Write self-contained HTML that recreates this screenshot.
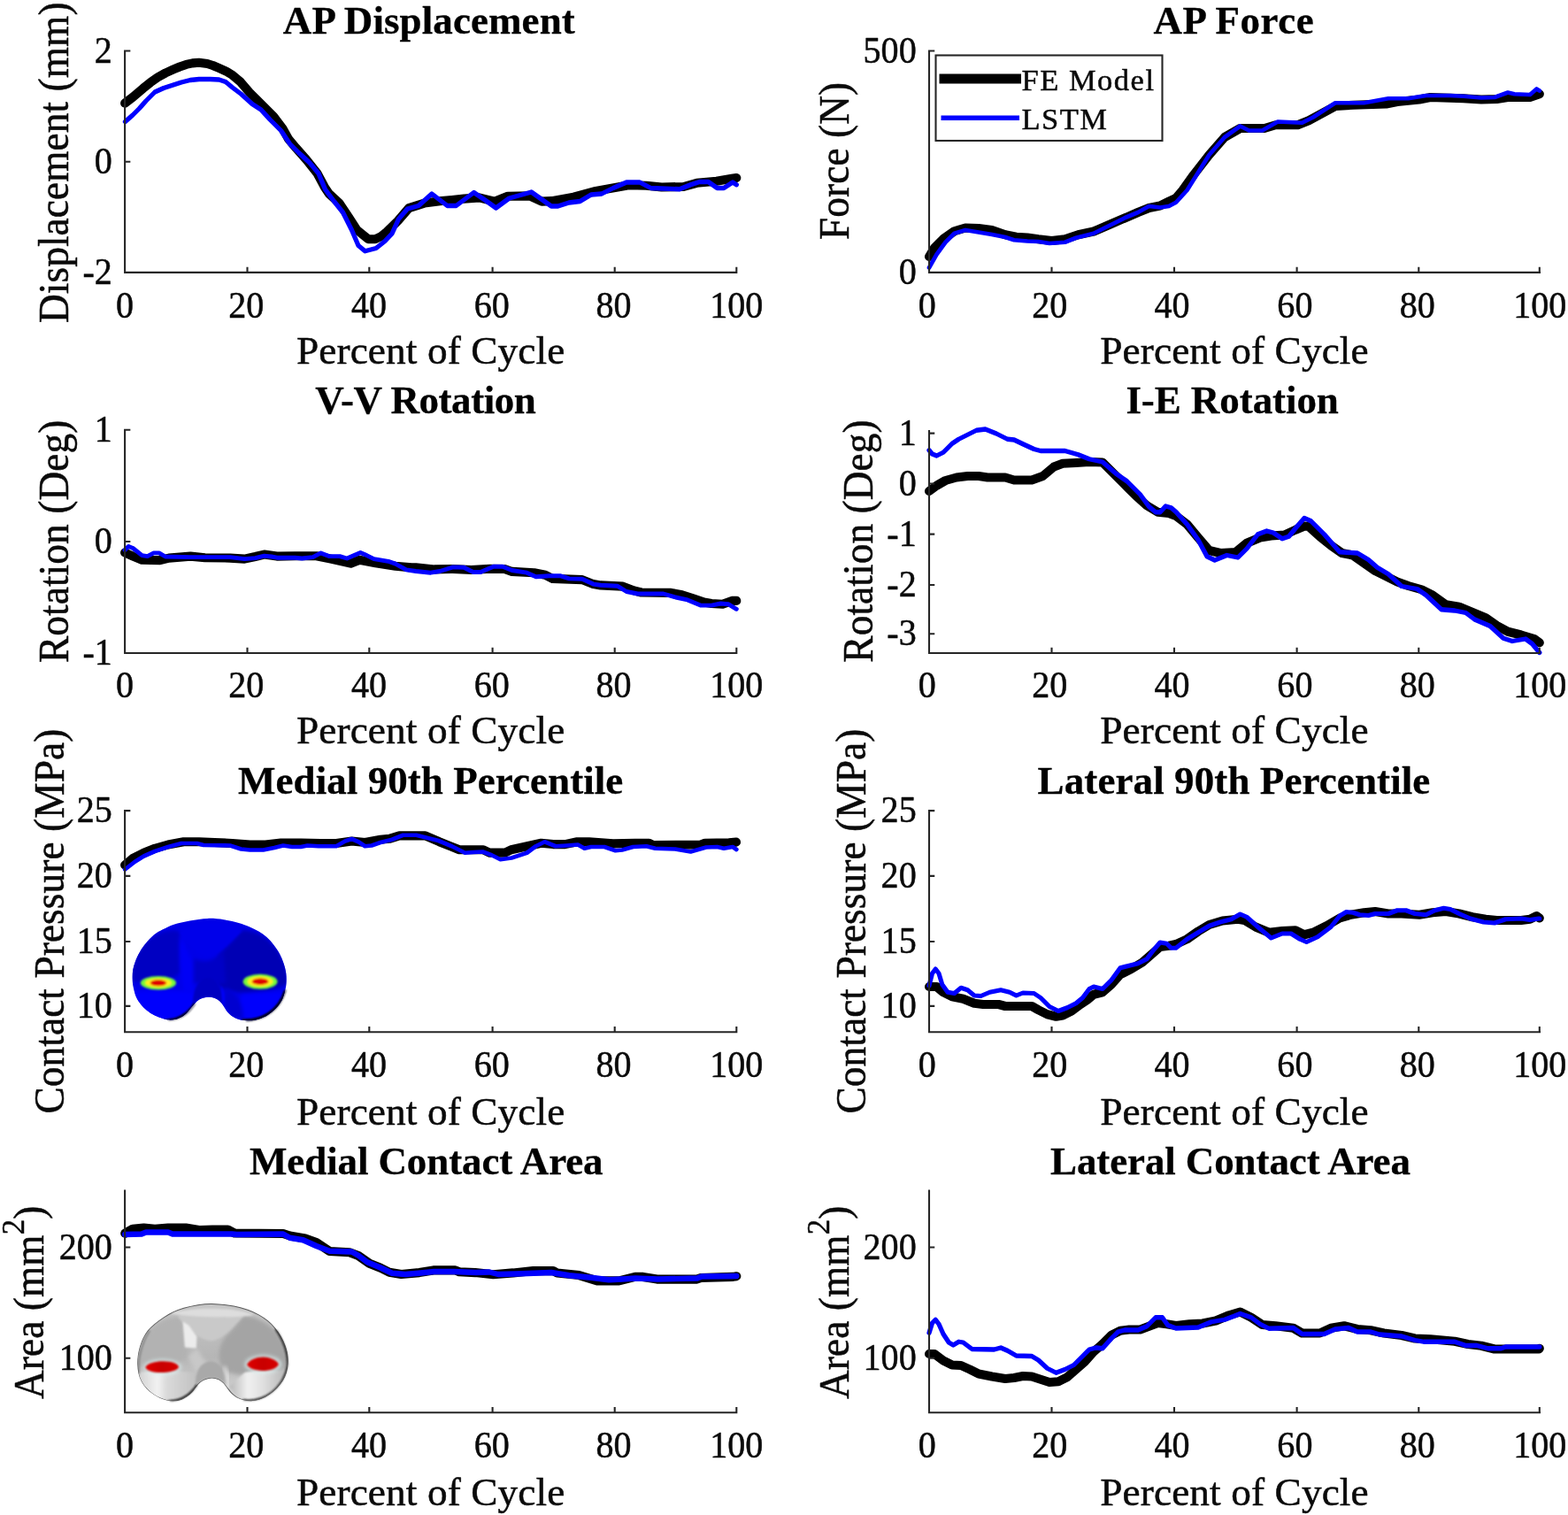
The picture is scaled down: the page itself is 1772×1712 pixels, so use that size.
<!DOCTYPE html>
<html lang="en"><head><meta charset="utf-8"><title>FE Model vs LSTM</title>
<style>
html,body{margin:0;padding:0;background:#fff}
body{width:1772px;height:1712px;overflow:hidden}
svg{display:block}
text{font-family:"Liberation Serif",serif;fill:#0a0a0a;stroke:#0a0a0a;stroke-width:0.5px;stroke-linejoin:round}
.t{font-size:45px;font-weight:bold;text-anchor:start;fill:#000;stroke:#000;stroke-width:0.3px}
.l{font-size:45.3px;text-anchor:middle;letter-spacing:0.1px}
.x{font-size:40.5px;text-anchor:middle}
.y{font-size:40.5px;text-anchor:end}
.g{font-size:34.5px;text-anchor:start;letter-spacing:1.5px}
.ax{fill:none;stroke:#262626;stroke-width:2.1;stroke-linecap:butt}
.k{fill:none;stroke:#000;stroke-width:10.1;stroke-linejoin:round;stroke-linecap:round}
.b{fill:none;stroke:#0000ff;stroke-width:4.9;stroke-linejoin:round;stroke-linecap:round}
</style></head><body>
<svg width="1772" height="1712" viewBox="0 0 1772 1712" role="img" aria-label="FE model versus LSTM predictions over percent of cycle">
<defs><clipPath id="cb"><path d="M840 70C783.33 71.67 716.67 82 660 92C603.33 102 545 115.33 500 130C455 144.67 423.33 162.5 390 180C356.67 197.5 328.33 211.67 300 235C271.67 258.33 243.33 291.67 220 320C196.67 348.33 177.5 375 160 405C142.5 435 126.67 469.17 115 500C103.33 530.83 94.83 560 90 590C85.17 620 85.17 651.67 86 680C86.83 708.33 88.5 730 95 760C101.5 790 112.5 831.67 125 860C137.5 888.33 152.5 908.33 170 930C187.5 951.67 206.67 971.33 230 990C253.33 1008.67 283.33 1028.33 310 1042C336.67 1055.67 366.67 1065 390 1072C413.33 1079 428.33 1083 450 1084C471.67 1085 498.33 1082.83 520 1078C541.67 1073.17 560.83 1066.33 580 1055C599.17 1043.67 618.33 1026.67 635 1010C651.67 993.33 665.83 971.67 680 955C694.17 938.33 705 923.33 720 910C735 896.67 750 883.83 770 875C790 866.17 816.67 858.17 840 857C863.33 855.83 890 860.83 910 868C930 875.17 945 886.33 960 900C975 913.67 986.67 931.67 1000 950C1013.33 968.33 1025 993 1040 1010C1055 1027 1070 1040 1090 1052C1110 1064 1131.67 1075.33 1160 1082C1188.33 1088.67 1228.33 1093 1260 1092C1291.67 1091 1320 1085.33 1350 1076C1380 1066.67 1411.67 1053.67 1440 1036C1468.33 1018.33 1496.67 994.33 1520 970C1543.33 945.67 1564.67 918.33 1580 890C1595.33 861.67 1604.33 828.33 1612 800C1619.67 771.67 1624 750 1626 720C1628 690 1628.33 653.33 1624 620C1619.67 586.67 1610.67 552.5 1600 520C1589.33 487.5 1576.67 455.83 1560 425C1543.33 394.17 1521.67 362.83 1500 335C1478.33 307.17 1455 280.5 1430 258C1405 235.5 1378.33 217.17 1350 200C1321.67 182.83 1293.33 169.17 1260 155C1226.67 140.83 1193.33 127.17 1150 115C1106.67 102.83 1051.67 89.5 1000 82C948.33 74.5 896.67 68.33 840 70Z"/></clipPath><clipPath id="cg"><path d="M880 75C818.33 73.33 776.67 80.83 730 88C683.33 95.17 640 106 600 118C560 130 523.33 144.33 490 160C456.67 175.67 430 192.33 400 212C370 231.67 335.83 256.67 310 278C284.17 299.33 264.17 316.33 245 340C225.83 363.67 208.33 393.33 195 420C181.67 446.67 173.33 471.67 165 500C156.67 528.33 149.17 560 145 590C140.83 620 139.17 650 140 680C140.83 710 143.33 741.67 150 770C156.67 798.33 166.67 825 180 850C193.33 875 211.67 899.67 230 920C248.33 940.33 268.33 956.67 290 972C311.67 987.33 336.67 1001.33 360 1012C383.33 1022.67 406.67 1030.67 430 1036C453.33 1041.33 476.67 1044.67 500 1044C523.33 1043.33 548.33 1039.33 570 1032C591.67 1024.67 611.67 1012.33 630 1000C648.33 987.67 665 973.83 680 958C695 942.17 706.67 921.33 720 905C733.33 888.67 745 872.5 760 860C775 847.5 790 837.33 810 830C830 822.67 856.67 816 880 816C903.33 816 930 821.33 950 830C970 838.67 985 853 1000 868C1015 883 1026.67 903 1040 920C1053.33 937 1065 955.33 1080 970C1095 984.67 1110 997.33 1130 1008C1150 1018.67 1173.33 1028.33 1200 1034C1226.67 1039.67 1260 1044.33 1290 1042C1320 1039.67 1351.67 1031.17 1380 1020C1408.33 1008.83 1435 992.5 1460 975C1485 957.5 1508.33 937.5 1530 915C1551.67 892.5 1574.17 865.83 1590 840C1605.83 814.17 1616.67 788.33 1625 760C1633.33 731.67 1638.17 700 1640 670C1641.83 640 1640.67 610 1636 580C1631.33 550 1623 520 1612 490C1601 460 1587 429.17 1570 400C1553 370.83 1531.67 340.83 1510 315C1488.33 289.17 1466.67 266.67 1440 245C1413.33 223.33 1383.33 203.33 1350 185C1316.67 166.67 1281.67 149.5 1240 135C1198.33 120.5 1160 108 1100 98C1040 88 941.67 76.67 880 75Z"/></clipPath><linearGradient id="gbase" x1="0" y1="0" x2="0" y2="1"><stop offset="0" stop-color="#c6c6c6"/><stop offset="0.55" stop-color="#b6b6b6"/><stop offset="1" stop-color="#d6d6d6"/></linearGradient><linearGradient id="glob" x1="0" y1="0" x2="1" y2="0"><stop offset="0" stop-color="#cfcfcf"/><stop offset="0.35" stop-color="#f2f2f2"/><stop offset="0.5" stop-color="#dadada"/><stop offset="1" stop-color="#c2c2c2"/></linearGradient><linearGradient id="glob2" x1="0" y1="0" x2="1" y2="0"><stop offset="0" stop-color="#b8b8b8"/><stop offset="0.3" stop-color="#f0f0f0"/><stop offset="0.55" stop-color="#e0e0e0"/><stop offset="1" stop-color="#b0b0b0"/></linearGradient><linearGradient id="gred" x1="0" y1="0" x2="1" y2="0"><stop offset="0" stop-color="#e00000"/><stop offset="0.5" stop-color="#c80000"/><stop offset="1" stop-color="#d80000"/></linearGradient><filter id="kb1" x="-40%" y="-40%" width="180%" height="180%"><feGaussianBlur stdDeviation="8"/></filter><filter id="kb2" x="-40%" y="-40%" width="180%" height="180%"><feGaussianBlur stdDeviation="18"/></filter><filter id="kb3" x="-40%" y="-40%" width="180%" height="180%"><feGaussianBlur stdDeviation="30"/></filter><filter id="kb4" x="-40%" y="-40%" width="180%" height="180%"><feGaussianBlur stdDeviation="45"/></filter></defs>
<rect width="1772" height="1712" fill="#fff"/>
<g id="p1">
<text class="t" x="319.8" y="38.2" style="letter-spacing:0.09px">AP Displacement</text>
<polyline class="k" points="141.1,116.6 150,109.9 161.8,99.8 170,93.2 178.2,87.4 187,82.5 196,78.4 203,75.5 210.4,72.9 217.5,71.4 224.8,70.8 234.3,72 240.5,74 246.8,76.7 256.1,80.8 261.7,84.2 271.9,92.7 282,104.5 295.6,118.1 309.1,131.6 319.3,145.1 326,157 334.5,167.2 346.4,180.7 358.5,195.9 366.7,211.2 371.7,218.8 383.6,229.8 393.8,245 403.4,259.9 416.1,270.1 424,270.3 431,267 437.2,261.9 449.7,249.5 462.1,235.1 479.5,229.6 499.3,227.1 524.2,224.6 541.5,223.4 558.9,227.6 573.8,221.7 598.7,221.4 612.3,227.6 623.5,227.1 648.3,222.6 673.2,215.9 698,211.5 710.4,209.2 730.3,209.7 747.7,211.5 772.5,211 787.4,206.8 809.7,204.8 827.1,201.8 832.3,201"/>
<polyline class="b" style="stroke-width:5.3px" points="141.5,137.5 150,130 157.5,122.5 165,114 175,104 185,99.5 195,96.25 205,93 215,90.5 225,89.5 237.5,89.5 247.5,90 255,92.5 262.5,98.75 272.5,106.25 285,117.5 295,124 305,135 317.5,147.5 327.5,162.5 337.5,172.5 350,184 360,196 367.5,214 377.5,227.5 387.5,240 397.5,260 405,277.5 412.5,283.75 425,280.5 435,272.5 443,264 450.5,247.5 460.5,236 473,232.5 488,219 505.5,232.5 515.5,232.5 535.5,217.5 548,226 560.5,235 575.5,224 600.5,217 623,233 630.5,233 643,229 655.5,227.5 668,220 680,219 693,212.5 708,206 723,206 735.5,212.5 768,213.75 780.5,208.75 790.5,205.5 800.5,205.5 810.5,212.5 818,212.5 828,206 832.3,208.75"/>
<path class="ax" d="M141.1 56.45V307.9H833.35M140.05 307.9h2.1M279.5 307.9v-6.25M417.3 307.9v-6.25M556.6 307.9v-6.25M694.7 307.9v-6.25M832.3 307.9v-6.25M141.1 57.5h6.25M141.1 182.7h6.25"/>
<text class="x" transform="translate(141.1 358.5) scale(0.99 1.04)">0</text>
<text class="x" transform="translate(278.2 358.5) scale(0.99 1.04)">20</text>
<text class="x" transform="translate(417 358.5) scale(0.99 1.04)">40</text>
<text class="x" transform="translate(555.7 358.5) scale(0.99 1.04)">60</text>
<text class="x" transform="translate(693.5 358.5) scale(0.99 1.04)">80</text>
<text class="x" transform="translate(832.3 358.5) scale(0.99 1.04)">100</text>
<text class="y" transform="translate(126.8 70.5) scale(0.99 1.04)">2</text>
<text class="y" transform="translate(126.8 195.7) scale(0.99 1.04)">0</text>
<text class="y" transform="translate(126.8 320.9) scale(0.99 1.04)">-2</text>
<text class="l" x="486.7" y="411.4">Percent of Cycle</text>
<text class="l" transform="translate(76.5 183.7) rotate(-90) scale(1 1.05)">Displacement (mm)</text>
</g>
<g id="p2">
<text class="t" x="1303.4" y="38.2" style="letter-spacing:0.49px">AP Force</text>
<polyline class="k" points="1050,290 1056,280 1066,270 1078.5,261.25 1091,257.5 1106,258 1121,260 1136,265.25 1148.5,267.75 1161,268.5 1173.5,270.25 1188.5,272 1203.5,270.25 1218.5,265.25 1236,261.5 1253.5,254 1271,246.5 1286,240 1298.5,235 1311,232.5 1321,227.5 1329,223.75 1336.5,215 1349,197.5 1366.5,175 1384,155 1401.5,145 1416.5,145 1429,145 1441.5,141.25 1466.5,141.25 1479,136.25 1509,120 1529,118.75 1566.5,117.5 1579,115 1604,112.5 1616.5,110 1654,111.25 1674,112.5 1691.5,112 1704,110 1729,110 1739.8,106.25"/>
<polyline class="b" style="stroke-width:4.7px" points="1050,302.5 1058.5,287.5 1068.5,273.75 1078.5,263.75 1091,260 1106,262.5 1121,265 1136,268 1146,271.25 1161,272.5 1173.5,273 1186,275 1203.5,273.75 1216,268.75 1236,263.75 1253.5,255 1271,246.25 1286,240 1298.5,233 1311,234.5 1321,233 1329,228.75 1341.5,215 1354,195 1366.5,175 1384,155 1401.5,142.5 1411.5,147.5 1426.5,147.5 1444,137.5 1471.5,138.75 1484,132.5 1509,116.25 1541.5,116.25 1569,111.25 1591.5,111.25 1611.5,108 1639,108 1654,108.75 1674,110.5 1689,110 1704,104.5 1711.5,106.25 1729,107 1736.5,100.5 1739.8,102.5"/>
<path class="ax" d="M1050 56.45V307.9H1741.05M1048.95 307.9h2.1M1188.5 307.9v-6.25M1327 307.9v-6.25M1465.6 307.9v-6.25M1603.3 307.9v-6.25M1739.8 307.9v-6.25M1050 57.5h6.25"/>
<text class="x" transform="translate(1047.8 358.5) scale(0.99 1.04)">0</text>
<text class="x" transform="translate(1186.3 358.5) scale(0.99 1.04)">20</text>
<text class="x" transform="translate(1324.6 358.5) scale(0.99 1.04)">40</text>
<text class="x" transform="translate(1463.4 358.5) scale(0.99 1.04)">60</text>
<text class="x" transform="translate(1601.8 358.5) scale(0.99 1.04)">80</text>
<text class="x" transform="translate(1740.3 358.5) scale(0.99 1.04)">100</text>
<text class="y" transform="translate(1035.7 70.5) scale(0.99 1.04)">500</text>
<text class="y" transform="translate(1035.7 320.9) scale(0.99 1.04)">0</text>
<text class="l" x="1395" y="411.4">Percent of Cycle</text>
<text class="l" transform="translate(958.7 181.9) rotate(-90) scale(1 1.05)">Force (N)</text>
<rect x="1057.5" y="62.5" width="256" height="96.5" fill="#fff" stroke="#262626" stroke-width="2.1"/>
<path class="k" style="stroke-linecap:butt;stroke-width:10.8px" d="M1061.5 89H1154"/>
<path class="b" style="stroke-linecap:butt;stroke-width:5.4px" d="M1063.5 133.3H1152"/>
<text class="g" x="1154.5" y="101.7">FE Model</text>
<text class="g" x="1154.5" y="146">LSTM</text>
</g>
<g id="p3">
<text class="t" x="356.2" y="467" style="letter-spacing:-0.45px">V-V Rotation</text>
<polyline class="k" points="141.1,624.5 150.3,628.6 160.5,632.7 180.8,633.1 191,630.6 215.3,628.6 231.6,630.2 260,630.6 276.3,631.6 288.5,629 298.6,626.6 312.9,628.6 333.2,628.2 357.6,628.2 373.8,631.6 396.2,636.7 406.3,632.7 424.6,636.3 446.9,639.8 465.2,641.4 470,641.3 490.9,643.4 511.8,643 532.6,644 553.5,642.8 570.2,643 578.6,645.9 603.6,647.2 616.2,649.7 624.5,653.9 657.9,655.1 670.5,660.1 678.8,661.4 703.9,662.6 716.4,667.4 724.8,669.5 758.2,669.9 770.7,672.2 783.2,676.4 795.7,680.6 804.1,682 816.6,682.7 827.1,678.9 832.3,678.9"/>
<polyline class="b" points="141.1,621.5 145.2,617.4 150.3,619.5 160.5,627.6 166.6,628.6 173.7,624.9 179.8,624.9 186.9,629 215.3,629.6 260,629.6 276.3,631.6 288.5,630.6 298.6,628.2 306.8,629 312.9,630.2 333.2,630.2 341.3,631 353.5,629.6 362.6,624.9 371.8,628.6 384,628.6 392.1,631 400.2,627.6 407.3,624.5 414.4,627.6 422.6,631.6 438.8,634.3 446.9,637.1 459.1,643.8 470,645.5 486.7,647.2 497.1,645.5 511.8,640.9 524.3,641.3 534.7,646.5 543.1,646.5 557.7,640.3 568.1,640.3 578.6,644.5 595.3,647.2 605.7,651.8 620.3,650.7 632.9,650.7 643.3,653.9 657.9,654.3 670.5,660.1 678.8,661.2 697.6,662.2 708,668.5 720.6,671 749.8,671 762.3,674.7 777,677.9 791.6,684.1 804.1,684.1 814.5,682 822.9,682.7 832.3,688.3"/>
<path class="ax" d="M141.1 484.65V738H833.35M140.05 738h2.1M279.5 738v-6.25M417.3 738v-6.25M556.6 738v-6.25M694.7 738v-6.25M832.3 738v-6.25M141.1 485.7h6.25M141.1 612h6.25"/>
<text class="x" transform="translate(141.1 787.6) scale(0.99 1.04)">0</text>
<text class="x" transform="translate(278.2 787.6) scale(0.99 1.04)">20</text>
<text class="x" transform="translate(417 787.6) scale(0.99 1.04)">40</text>
<text class="x" transform="translate(555.7 787.6) scale(0.99 1.04)">60</text>
<text class="x" transform="translate(693.5 787.6) scale(0.99 1.04)">80</text>
<text class="x" transform="translate(832.3 787.6) scale(0.99 1.04)">100</text>
<text class="y" transform="translate(126.8 498.7) scale(0.99 1.04)">1</text>
<text class="y" transform="translate(126.8 625) scale(0.99 1.04)">0</text>
<text class="y" transform="translate(126.8 751) scale(0.99 1.04)">-1</text>
<text class="l" x="486.7" y="840.2">Percent of Cycle</text>
<text class="l" transform="translate(76.5 611.85) rotate(-90) scale(1 1.05)">Rotation (Deg)</text>
</g>
<g id="p4">
<text class="t" x="1272.4" y="467" style="letter-spacing:-0.07px">I-E Rotation</text>
<polyline class="k" points="1050,555 1058.5,548.75 1068.5,543 1081,539.5 1093.5,538 1106,538 1116,539.5 1136,539.5 1146,542.5 1166,542.5 1178.5,538 1191,527.5 1201,523.75 1216,523 1231,522 1246,522.5 1258.5,535 1271,547.5 1283.5,560 1296,571.25 1308.5,578.75 1321,580 1329,583 1341.5,592.5 1354,607.5 1366.5,622 1379,625 1396.5,624 1409,613.75 1424,607.5 1436.5,605.5 1451.5,604.5 1464,598.75 1474,594.5 1479,595 1491.5,606.25 1504,616.25 1516.5,625 1529,627.5 1541.5,636.25 1554,645 1566.5,651.25 1579,657.5 1591.5,662 1606.5,666.25 1619,672.5 1634,683.25 1649,685.75 1664,692 1679,698.25 1691.5,707 1704,713.75 1719,717.5 1734,722 1739.8,726.25"/>
<polyline class="b" style="stroke-width:5.3px" points="1050,508.75 1053.5,513 1058.5,515 1066,511.25 1076,501.25 1083.5,496.25 1093.5,491.25 1103.5,486.25 1113.5,485 1126,490 1138.5,496.25 1146,497 1156,501.75 1168.5,507.5 1176,509.5 1203.5,509.5 1218.5,513.75 1231,518.75 1246,522 1261,535 1273.5,543.75 1288.5,558.75 1298.5,572.5 1306,578.75 1311,578.75 1317.25,572 1323.5,573.75 1329,578.5 1341.5,592.5 1354,610 1364,628.75 1372.75,633 1386.5,627.5 1399,630 1409,620 1421.5,603.75 1431.5,600 1439,602 1449,608.75 1456.5,606.25 1465.25,595.5 1474,585.5 1481.5,588.75 1496.5,603.75 1514,623.75 1534,625 1546.5,632.5 1556.5,641.25 1569,648.75 1584,662.5 1601.5,665.5 1611.5,672.5 1629,688.75 1644,690 1656.5,692.5 1666.5,700 1684,707.5 1699,721.25 1709,724.5 1724,722 1731.5,727.5 1739.8,737.5"/>
<path class="ax" d="M1050 485.95V738H1741.05M1048.95 738h2.1M1188.5 738v-6.25M1327 738v-6.25M1465.6 738v-6.25M1603.3 738v-6.25M1739.8 738v-6.25M1050 489.6h6.25M1050 546.5h6.25M1050 603.6h6.25M1050 661h6.25M1050 716.2h6.25"/>
<text class="x" transform="translate(1047.8 787.6) scale(0.99 1.04)">0</text>
<text class="x" transform="translate(1186.3 787.6) scale(0.99 1.04)">20</text>
<text class="x" transform="translate(1324.6 787.6) scale(0.99 1.04)">40</text>
<text class="x" transform="translate(1463.4 787.6) scale(0.99 1.04)">60</text>
<text class="x" transform="translate(1601.8 787.6) scale(0.99 1.04)">80</text>
<text class="x" transform="translate(1740.3 787.6) scale(0.99 1.04)">100</text>
<text class="y" transform="translate(1035.7 502.6) scale(0.99 1.04)">1</text>
<text class="y" transform="translate(1035.7 559.5) scale(0.99 1.04)">0</text>
<text class="y" transform="translate(1035.7 616.6) scale(0.99 1.04)">-1</text>
<text class="y" transform="translate(1035.7 674) scale(0.99 1.04)">-2</text>
<text class="y" transform="translate(1035.7 729.2) scale(0.99 1.04)">-3</text>
<text class="l" x="1395" y="840.2">Percent of Cycle</text>
<text class="l" transform="translate(986.3 611.5) rotate(-90) scale(1 1.05)">Rotation (Deg)</text>
</g>
<g id="p5">
<text class="t" x="269" y="896.6" style="letter-spacing:0.06px">Medial 90th Percentile</text>
<polyline class="k" points="141.1,977.5 150,970 162.5,963.75 175,958.75 190,954.5 207.5,951.25 225,951.25 242.5,952 262.5,953 282.5,954.5 300,954.5 317.5,952.5 340,952.5 362.5,953 380,953 397.5,950.5 412.5,952 430,948.75 440,947.8 451.3,944.4 480.6,944.4 496.4,951.2 519,960.2 546.1,960.2 552.9,963.6 570.9,963.6 577.7,960.2 598,955.7 611.6,952.7 625.1,954.1 638.6,954.1 652.2,951.2 665.7,951.2 692.8,953.4 717.7,952.7 733.5,952.7 738,955 792.1,954.5 796.7,952.7 823.7,952.3 832,951.6"/>
<polyline class="b" style="stroke-width:4.7px" points="141.25,982.5 152.5,973.75 162.5,967.5 175,962 190,957 205,953 222.5,953 230,955 260,955.5 272.5,959.5 282.5,960.5 297.5,960.5 310,958 320,955.5 330,957 340,957 347.5,955.5 360,956.25 380,956.25 390,950.5 397.5,948 405,951.25 412.5,956.25 420,955.5 430,952 443,948.75 455.5,943.75 470.5,943.75 480.5,946.25 495.5,950 510.5,956.25 525.5,963.75 535.5,963 545.5,962.5 555.5,966.25 565.5,971.25 578,969.5 595.5,963.75 605.5,956.25 615.5,951.25 628,956.25 640.5,955.5 653,954.5 660.5,958.75 668,957 683,957 695.5,961.25 703,960.5 715.5,957 730.5,956.25 740.5,958.75 763,959.5 780.5,962.5 798,957.5 810.5,957 818,958.75 828,957 832.3,960"/>
<g id="knee-pressure" transform="translate(140 1030) scale(0.11287)"><path d="M840 70C783.33 71.67 716.67 82 660 92C603.33 102 545 115.33 500 130C455 144.67 423.33 162.5 390 180C356.67 197.5 328.33 211.67 300 235C271.67 258.33 243.33 291.67 220 320C196.67 348.33 177.5 375 160 405C142.5 435 126.67 469.17 115 500C103.33 530.83 94.83 560 90 590C85.17 620 85.17 651.67 86 680C86.83 708.33 88.5 730 95 760C101.5 790 112.5 831.67 125 860C137.5 888.33 152.5 908.33 170 930C187.5 951.67 206.67 971.33 230 990C253.33 1008.67 283.33 1028.33 310 1042C336.67 1055.67 366.67 1065 390 1072C413.33 1079 428.33 1083 450 1084C471.67 1085 498.33 1082.83 520 1078C541.67 1073.17 560.83 1066.33 580 1055C599.17 1043.67 618.33 1026.67 635 1010C651.67 993.33 665.83 971.67 680 955C694.17 938.33 705 923.33 720 910C735 896.67 750 883.83 770 875C790 866.17 816.67 858.17 840 857C863.33 855.83 890 860.83 910 868C930 875.17 945 886.33 960 900C975 913.67 986.67 931.67 1000 950C1013.33 968.33 1025 993 1040 1010C1055 1027 1070 1040 1090 1052C1110 1064 1131.67 1075.33 1160 1082C1188.33 1088.67 1228.33 1093 1260 1092C1291.67 1091 1320 1085.33 1350 1076C1380 1066.67 1411.67 1053.67 1440 1036C1468.33 1018.33 1496.67 994.33 1520 970C1543.33 945.67 1564.67 918.33 1580 890C1595.33 861.67 1604.33 828.33 1612 800C1619.67 771.67 1624 750 1626 720C1628 690 1628.33 653.33 1624 620C1619.67 586.67 1610.67 552.5 1600 520C1589.33 487.5 1576.67 455.83 1560 425C1543.33 394.17 1521.67 362.83 1500 335C1478.33 307.17 1455 280.5 1430 258C1405 235.5 1378.33 217.17 1350 200C1321.67 182.83 1293.33 169.17 1260 155C1226.67 140.83 1193.33 127.17 1150 115C1106.67 102.83 1051.67 89.5 1000 82C948.33 74.5 896.67 68.33 840 70Z" fill="#0000e8"/><g clip-path="url(#cb)"><path d="M60 700C60 420 250 190 520 185L560 210L570 600C520 690 300 720 60 700Z" fill="#0000c2" filter="url(#kb2)"/><path d="M1190 185C1450 200 1640 450 1640 720C1450 830 1150 850 960 760C880 640 900 480 1000 380C1080 310 1130 240 1190 185Z" fill="#0000b4" filter="url(#kb2)"/><path d="M560 210C640 330 740 440 840 450C940 440 1040 330 1180 195C1000 90 700 90 560 210Z" fill="#0000ea" filter="url(#kb1)"/><path d="M570 230C600 330 640 420 700 520L700 800L600 800C560 620 550 400 570 230Z" fill="#0000f6" filter="url(#kb2)"/><path d="M700 470C800 520 900 500 1000 400L1020 720L700 720Z" fill="#0000c6" filter="url(#kb2)"/><path d="M80 800C250 790 500 790 700 800L720 1000L500 1110L200 1050Z" fill="#0000fc" filter="url(#kb2)"/><path d="M1180 830C1300 810 1500 810 1640 800L1600 1000L1300 1110L1100 1060Z" fill="#0000fc" filter="url(#kb2)"/><path d="M1020 760C1100 800 1160 860 1190 1000L1200 1090L1080 1060L1000 930Z" fill="#0000d0" filter="url(#kb2)"/><path d="M690 950C690 790 740 670 840 662C940 670 990 780 1000 950C960 890 910 858 840 857C770 858 730 890 690 950Z" fill="#0000c0" filter="url(#kb1)"/><path d="M975 740C1000 790 1010 860 1005 950L985 915C985 850 980 800 975 740Z" fill="#0000ff" filter="url(#kb1)"/><path d="M400 1095C520 1100 640 1040 710 930" fill="none" stroke="#000018" stroke-width="30" filter="url(#kb1)"/><path d="M1180 1098C1380 1110 1560 1010 1625 800" fill="none" stroke="#00000c" stroke-width="44" filter="url(#kb1)"/></g><path d="M450 1086C560 1082 650 1020 710 925" fill="none" stroke="#000020" stroke-width="12" stroke-linecap="round" filter="url(#kb1)" opacity="0.85"/><path d="M1230 1093C1400 1085 1560 990 1618 790" fill="none" stroke="#000014" stroke-width="14" stroke-linecap="round" filter="url(#kb1)" opacity="0.9"/><g filter="url(#kb1)"><ellipse cx="345" cy="715" rx="178" ry="68" fill="#74f83c"/><ellipse cx="345" cy="715" rx="132" ry="46" fill="#fff01c"/><ellipse cx="345" cy="715" rx="82" ry="31" fill="#e00000"/></g><g filter="url(#kb1)"><ellipse cx="1365" cy="702" rx="172" ry="76" fill="#74f83c"/><ellipse cx="1365" cy="702" rx="128" ry="52" fill="#fff01c"/><ellipse cx="1365" cy="702" rx="82" ry="33" fill="#e00000"/></g></g>
<path class="ax" d="M141.1 914.95V1166.2H833.35M140.05 1166.2h2.1M279.5 1166.2v-6.25M417.3 1166.2v-6.25M556.6 1166.2v-6.25M694.7 1166.2v-6.25M832.3 1166.2v-6.25M141.1 916.1h6.25M141.1 989.9h6.25M141.1 1064h6.25M141.1 1136.9h6.25"/>
<text class="x" transform="translate(141.1 1217.4) scale(0.99 1.04)">0</text>
<text class="x" transform="translate(278.2 1217.4) scale(0.99 1.04)">20</text>
<text class="x" transform="translate(417 1217.4) scale(0.99 1.04)">40</text>
<text class="x" transform="translate(555.7 1217.4) scale(0.99 1.04)">60</text>
<text class="x" transform="translate(693.5 1217.4) scale(0.99 1.04)">80</text>
<text class="x" transform="translate(832.3 1217.4) scale(0.99 1.04)">100</text>
<text class="y" transform="translate(126.8 929.1) scale(0.99 1.04)">25</text>
<text class="y" transform="translate(126.8 1002.9) scale(0.99 1.04)">20</text>
<text class="y" transform="translate(126.8 1077) scale(0.99 1.04)">15</text>
<text class="y" transform="translate(126.8 1149.9) scale(0.99 1.04)">10</text>
<text class="l" x="486.7" y="1270.5">Percent of Cycle</text>
<text class="l" transform="translate(71.6 1041.1) rotate(-90) scale(1 1.05)">Contact Pressure (MPa)</text>
</g>
<g id="p6">
<text class="t" x="1172.6" y="896.6" style="letter-spacing:0.1px">Lateral 90th Percentile</text>
<polyline class="k" points="1050,1115 1058.5,1115 1066,1121.25 1076,1126.25 1088.5,1128.75 1101,1133.75 1111,1135 1128.5,1135 1136,1137 1166,1137 1173.5,1141.25 1183.5,1146.25 1193.5,1148.75 1201,1147.5 1211,1142.5 1221,1135 1228.5,1130 1236,1123.75 1246,1121.25 1256,1112.5 1266,1101.25 1278.5,1095 1291,1087.5 1301,1078.75 1311,1070 1321,1068.75 1329,1067 1341.5,1061.25 1354,1052.5 1366.5,1045 1381.5,1040.5 1399,1038.75 1406.5,1040 1419,1047.5 1434,1053.75 1449,1052 1464,1051.25 1474,1056.25 1484,1053.75 1499,1046.25 1514,1037.5 1526.5,1033.75 1541.5,1031.25 1554,1030 1569,1032.5 1584,1032.5 1604,1033.75 1619,1031.25 1634,1030 1649,1032.5 1664,1036.25 1679,1038.75 1691.5,1040 1704,1040 1719,1040 1729,1038.75 1736.5,1035 1739.8,1037.5"/>
<polyline class="b" style="stroke-width:5.1px" points="1050,1113.75 1053.5,1100 1057.25,1095 1061,1100 1064.75,1112.5 1071,1121.25 1078.5,1122.5 1086,1116.25 1093.5,1118.75 1101,1125 1108.5,1125.5 1118.5,1121.25 1131,1118.75 1141,1121.25 1148.5,1125 1156,1122 1168.5,1122.5 1176,1127.5 1186,1137.5 1196,1142.5 1206,1138.75 1216,1133.75 1223.5,1127.5 1231,1117.5 1236,1115 1246,1117.5 1256,1107.5 1266,1093.75 1276,1091.25 1286,1088.75 1296,1083.75 1303.5,1073.75 1311,1065 1318.5,1066.25 1323.5,1071.25 1329,1071.25 1341.5,1061.25 1354,1053.75 1366.5,1046.25 1379,1042 1391.5,1038.75 1401.5,1033 1409,1036.25 1421.5,1047.5 1436.5,1060 1449,1055 1459,1055 1469,1061.25 1476.5,1064.5 1489,1058.75 1504,1047.5 1514,1035 1521.5,1030.5 1529,1031.25 1536.5,1033.75 1546.5,1034.5 1554,1032.5 1569,1032.5 1579,1028.75 1589,1028.75 1599,1032.5 1611.5,1033.75 1621.5,1028.75 1631.5,1026.25 1639,1027.5 1649,1032.5 1661.5,1038 1676.5,1042 1689,1043 1701.5,1038.75 1719,1038 1729,1039.5 1739,1038 1739.8,1038"/>
<path class="ax" d="M1050 914.95V1166.2H1741.05M1048.95 1166.2h2.1M1188.5 1166.2v-6.25M1327 1166.2v-6.25M1465.6 1166.2v-6.25M1603.3 1166.2v-6.25M1739.8 1166.2v-6.25M1050 916.1h6.25M1050 989.9h6.25M1050 1064h6.25M1050 1136.9h6.25"/>
<text class="x" transform="translate(1047.8 1217.4) scale(0.99 1.04)">0</text>
<text class="x" transform="translate(1186.3 1217.4) scale(0.99 1.04)">20</text>
<text class="x" transform="translate(1324.6 1217.4) scale(0.99 1.04)">40</text>
<text class="x" transform="translate(1463.4 1217.4) scale(0.99 1.04)">60</text>
<text class="x" transform="translate(1601.8 1217.4) scale(0.99 1.04)">80</text>
<text class="x" transform="translate(1740.3 1217.4) scale(0.99 1.04)">100</text>
<text class="y" transform="translate(1035.7 929.1) scale(0.99 1.04)">25</text>
<text class="y" transform="translate(1035.7 1002.9) scale(0.99 1.04)">20</text>
<text class="y" transform="translate(1035.7 1077) scale(0.99 1.04)">15</text>
<text class="y" transform="translate(1035.7 1149.9) scale(0.99 1.04)">10</text>
<text class="l" x="1395" y="1270.5">Percent of Cycle</text>
<text class="l" transform="translate(978.3 1041.1) rotate(-90) scale(1 1.05)">Contact Pressure (MPa)</text>
</g>
<g id="p7">
<text class="t" x="282" y="1326.6" style="letter-spacing:-0.11px">Medial Contact Area</text>
<polyline class="k" points="141.25,1393.75 150,1388.75 162.5,1387.5 175,1388.75 190,1387.5 210,1387.5 225,1390 240,1389.5 257.5,1389.5 265,1393.5 320,1394 327.5,1396.5 345,1399.5 357.5,1404 372.5,1414 395,1415.25 405,1419 417.5,1427.75 430,1432.75 440,1437.7 453.5,1440 473.9,1438.1 489.7,1435.4 514.5,1435.4 519,1437.2 537.1,1438.1 557.4,1440.2 580,1438.4 602.5,1436.1 625.1,1436.1 629.6,1438.4 654.4,1441.1 674.8,1447.4 699.6,1447.4 717.7,1442.9 726.7,1442.9 742.5,1445.6 787.6,1445.6 792.1,1444 828.3,1442.9 832.3,1442.2"/>
<polyline class="b" style="stroke-width:6.4px" points="141.25,1395 160,1394.5 165,1392.5 190,1392.5 195,1394.5 262.5,1394.5 267.5,1395 320,1394.5 327.5,1398.75 342.5,1401.25 357.5,1408 372.5,1413.75 397.5,1414.5 405,1418.75 415,1426.25 430,1432.5 443,1438.75 458,1440 473,1438.75 490.5,1437 513,1437 538,1438 553,1437.5 563,1440 583,1439.5 603,1438.75 623,1438 643,1441.25 668,1443.75 688,1446.25 703,1445.5 718,1444.5 743,1445.5 788,1444.5 793,1442.5 832.3,1442"/>
<g id="knee-area" transform="translate(140 1465) scale(0.11287)"><path d="M880 75C818.33 73.33 776.67 80.83 730 88C683.33 95.17 640 106 600 118C560 130 523.33 144.33 490 160C456.67 175.67 430 192.33 400 212C370 231.67 335.83 256.67 310 278C284.17 299.33 264.17 316.33 245 340C225.83 363.67 208.33 393.33 195 420C181.67 446.67 173.33 471.67 165 500C156.67 528.33 149.17 560 145 590C140.83 620 139.17 650 140 680C140.83 710 143.33 741.67 150 770C156.67 798.33 166.67 825 180 850C193.33 875 211.67 899.67 230 920C248.33 940.33 268.33 956.67 290 972C311.67 987.33 336.67 1001.33 360 1012C383.33 1022.67 406.67 1030.67 430 1036C453.33 1041.33 476.67 1044.67 500 1044C523.33 1043.33 548.33 1039.33 570 1032C591.67 1024.67 611.67 1012.33 630 1000C648.33 987.67 665 973.83 680 958C695 942.17 706.67 921.33 720 905C733.33 888.67 745 872.5 760 860C775 847.5 790 837.33 810 830C830 822.67 856.67 816 880 816C903.33 816 930 821.33 950 830C970 838.67 985 853 1000 868C1015 883 1026.67 903 1040 920C1053.33 937 1065 955.33 1080 970C1095 984.67 1110 997.33 1130 1008C1150 1018.67 1173.33 1028.33 1200 1034C1226.67 1039.67 1260 1044.33 1290 1042C1320 1039.67 1351.67 1031.17 1380 1020C1408.33 1008.83 1435 992.5 1460 975C1485 957.5 1508.33 937.5 1530 915C1551.67 892.5 1574.17 865.83 1590 840C1605.83 814.17 1616.67 788.33 1625 760C1633.33 731.67 1638.17 700 1640 670C1641.83 640 1640.67 610 1636 580C1631.33 550 1623 520 1612 490C1601 460 1587 429.17 1570 400C1553 370.83 1531.67 340.83 1510 315C1488.33 289.17 1466.67 266.67 1440 245C1413.33 223.33 1383.33 203.33 1350 185C1316.67 166.67 1281.67 149.5 1240 135C1198.33 120.5 1160 108 1100 98C1040 88 941.67 76.67 880 75Z" fill="url(#gbase)" stroke="#5a5a5a" stroke-width="9"/><g clip-path="url(#cg)"><path d="M120 700C120 450 280 230 540 200L600 240L640 600C560 700 300 720 120 700Z" fill="#b2b2b2" filter="url(#kb2)"/><path d="M1200 190C1470 220 1660 450 1660 700C1450 800 1180 820 1000 740C930 640 940 500 1020 400C1100 320 1150 250 1200 190Z" fill="#a4a4a4" filter="url(#kb2)"/><path d="M540 200C640 330 760 440 880 445C990 430 1080 320 1200 190C1050 80 700 80 540 200Z" fill="#c9c9c9" filter="url(#kb1)"/><path d="M470 170C600 110 1150 100 1300 185C1150 215 700 215 470 170Z" fill="#dddddd" filter="url(#kb1)"/><path d="M590 250L650 290L730 400L725 520L610 510Z" fill="#ececec" filter="url(#kb1)"/><path d="M730 520C780 600 820 660 850 700L720 760L640 600Z" fill="#c8c8c8" filter="url(#kb2)"/><path d="M130 760C300 740 560 740 720 770L720 1000L500 1080L200 1000Z" fill="url(#glob)" filter="url(#kb1)"/><path d="M1210 760C1330 735 1520 735 1660 760L1600 960L1300 1080L1130 1010L1060 900Z" fill="url(#glob2)" filter="url(#kb1)"/><path d="M715 900C715 760 760 660 870 650C970 660 1020 740 1030 900C990 850 950 818 880 816C810 818 760 850 715 900Z" fill="#a9a9a9" filter="url(#kb1)"/><path d="M1005 700C1040 760 1045 840 1035 920" fill="none" stroke="#f0f0f0" stroke-width="22" filter="url(#kb2)"/><path d="M440 1052C560 1056 660 1000 735 890" fill="none" stroke="#282828" stroke-width="22" filter="url(#kb1)"/><path d="M1190 1046C1400 1070 1600 950 1648 690C1650 560 1600 430 1520 320" fill="none" stroke="#343434" stroke-width="26" filter="url(#kb1)"/><path d="M150 780C140 640 170 480 260 340" fill="none" stroke="#7a7a7a" stroke-width="14" filter="url(#kb1)"/></g><path d="M470 1044C570 1040 660 990 730 890" fill="none" stroke="#303030" stroke-width="11" stroke-linecap="round" filter="url(#kb1)" opacity="0.9"/><path d="M1200 1036C1400 1060 1590 930 1638 690C1642 570 1600 450 1530 340" fill="none" stroke="#3c3c3c" stroke-width="11" stroke-linecap="round" filter="url(#kb1)" opacity="0.9"/><ellipse cx="385" cy="708" rx="190" ry="78" fill="#dcf2f2" opacity="0.75" filter="url(#kb2)"/><ellipse cx="1395" cy="680" rx="185" ry="92" fill="#dcf2f2" opacity="0.75" filter="url(#kb2)"/><path d="M215 708C240 668 320 648 400 650C480 652 540 672 550 708C530 745 450 762 370 762C290 760 230 745 215 708Z" fill="url(#gred)" filter="url(#kb1)"/><path d="M1232 680C1260 630 1330 604 1400 606C1470 610 1540 640 1550 682C1530 722 1460 744 1390 744C1310 740 1250 722 1232 680Z" fill="url(#gred)" filter="url(#kb1)"/></g>
<path class="ax" d="M141.1 1344.55V1596.3H833.35M140.05 1596.3h2.1M279.5 1596.3v-6.25M417.3 1596.3v-6.25M556.6 1596.3v-6.25M694.7 1596.3v-6.25M832.3 1596.3v-6.25M141.1 1409.5h6.25M141.1 1534.75h6.25"/>
<text class="x" transform="translate(141.1 1646.9) scale(0.99 1.04)">0</text>
<text class="x" transform="translate(278.2 1646.9) scale(0.99 1.04)">20</text>
<text class="x" transform="translate(417 1646.9) scale(0.99 1.04)">40</text>
<text class="x" transform="translate(555.7 1646.9) scale(0.99 1.04)">60</text>
<text class="x" transform="translate(693.5 1646.9) scale(0.99 1.04)">80</text>
<text class="x" transform="translate(832.3 1646.9) scale(0.99 1.04)">100</text>
<text class="y" transform="translate(126.8 1422.5) scale(0.99 1.04)">200</text>
<text class="y" transform="translate(126.8 1547.75) scale(0.99 1.04)">100</text>
<text class="l" x="486.7" y="1700.6">Percent of Cycle</text>
<text class="l" transform="translate(49.2 1471.75) rotate(-90) scale(1 1.05)">Area (mm<tspan dy="-20.8" font-size="35">2</tspan><tspan dy="20.8">)</tspan></text>
</g>
<g id="p8">
<text class="t" x="1187" y="1326.6" style="letter-spacing:-0.11px">Lateral Contact Area</text>
<polyline class="k" points="1050,1530 1056,1530 1066,1537.5 1076,1542.5 1086,1543 1096,1547.5 1106,1552.5 1121,1555.5 1136,1558 1146,1557 1156,1555 1166,1555.5 1176,1558.75 1186,1562 1196,1561.25 1206,1556.25 1216,1547.5 1226,1538.75 1236,1527.5 1246,1518.75 1256,1508.75 1266,1503.75 1276,1502.5 1288.5,1502.5 1298.5,1498.75 1308.5,1495 1318.5,1496.25 1329,1498 1344,1496.25 1359,1495.5 1374,1492.5 1389,1486.25 1401.5,1482.5 1414,1488.75 1426.5,1497 1441.5,1498.25 1461.5,1500.75 1471.5,1506.5 1491.5,1506.5 1504,1500.75 1519,1498.25 1534,1502 1549,1503.25 1564,1506.5 1584,1509 1599,1512.5 1616.5,1513.25 1644,1515.75 1659,1519 1674,1520.75 1689,1524.5 1704,1524.5 1739,1524.5 1739.8,1523.75"/>
<polyline class="b" style="stroke-width:5.3px" points="1050,1506.25 1053.5,1495 1057.25,1491.25 1061,1496.25 1066,1507.5 1072.25,1517 1077.25,1520 1083.5,1516.25 1088.5,1517 1098.5,1524.5 1123.5,1525 1131,1523 1138.5,1526.25 1148.5,1532 1166,1532.5 1173.5,1537 1183.5,1546.25 1193.5,1551.25 1203.5,1547.5 1213.5,1542.5 1223.5,1532.5 1231,1525 1238.5,1523 1246,1523.75 1256,1512.5 1263.5,1505 1271,1503 1286,1503 1296,1498.75 1306,1488.75 1313.5,1488.75 1319.75,1497.5 1329,1501 1354,1500 1369,1493.75 1384,1491.25 1394,1487.5 1401.5,1484.5 1414,1488.75 1424,1496.25 1434,1501.25 1461.5,1500.5 1471.5,1507.5 1496.5,1507.5 1509,1502 1524,1500.5 1534,1505 1549,1505 1559,1508 1584,1510 1599,1514.5 1609,1516.25 1644,1516.25 1656.5,1520.5 1669,1520.5 1681.5,1523.75 1696.5,1523.75 1701.5,1522 1739.8,1522"/>
<path class="ax" d="M1050 1344.55V1596.3H1741.05M1048.95 1596.3h2.1M1188.5 1596.3v-6.25M1327 1596.3v-6.25M1465.6 1596.3v-6.25M1603.3 1596.3v-6.25M1739.8 1596.3v-6.25M1050 1409.5h6.25M1050 1534.75h6.25"/>
<text class="x" transform="translate(1047.8 1646.9) scale(0.99 1.04)">0</text>
<text class="x" transform="translate(1186.3 1646.9) scale(0.99 1.04)">20</text>
<text class="x" transform="translate(1324.6 1646.9) scale(0.99 1.04)">40</text>
<text class="x" transform="translate(1463.4 1646.9) scale(0.99 1.04)">60</text>
<text class="x" transform="translate(1601.8 1646.9) scale(0.99 1.04)">80</text>
<text class="x" transform="translate(1740.3 1646.9) scale(0.99 1.04)">100</text>
<text class="y" transform="translate(1035.7 1422.5) scale(0.99 1.04)">200</text>
<text class="y" transform="translate(1035.7 1547.75) scale(0.99 1.04)">100</text>
<text class="l" x="1395" y="1700.6">Percent of Cycle</text>
<text class="l" transform="translate(958.6 1471.75) rotate(-90) scale(1 1.05)">Area (mm<tspan dy="-20.8" font-size="35">2</tspan><tspan dy="20.8">)</tspan></text>
</g>
</svg>
</body></html>
